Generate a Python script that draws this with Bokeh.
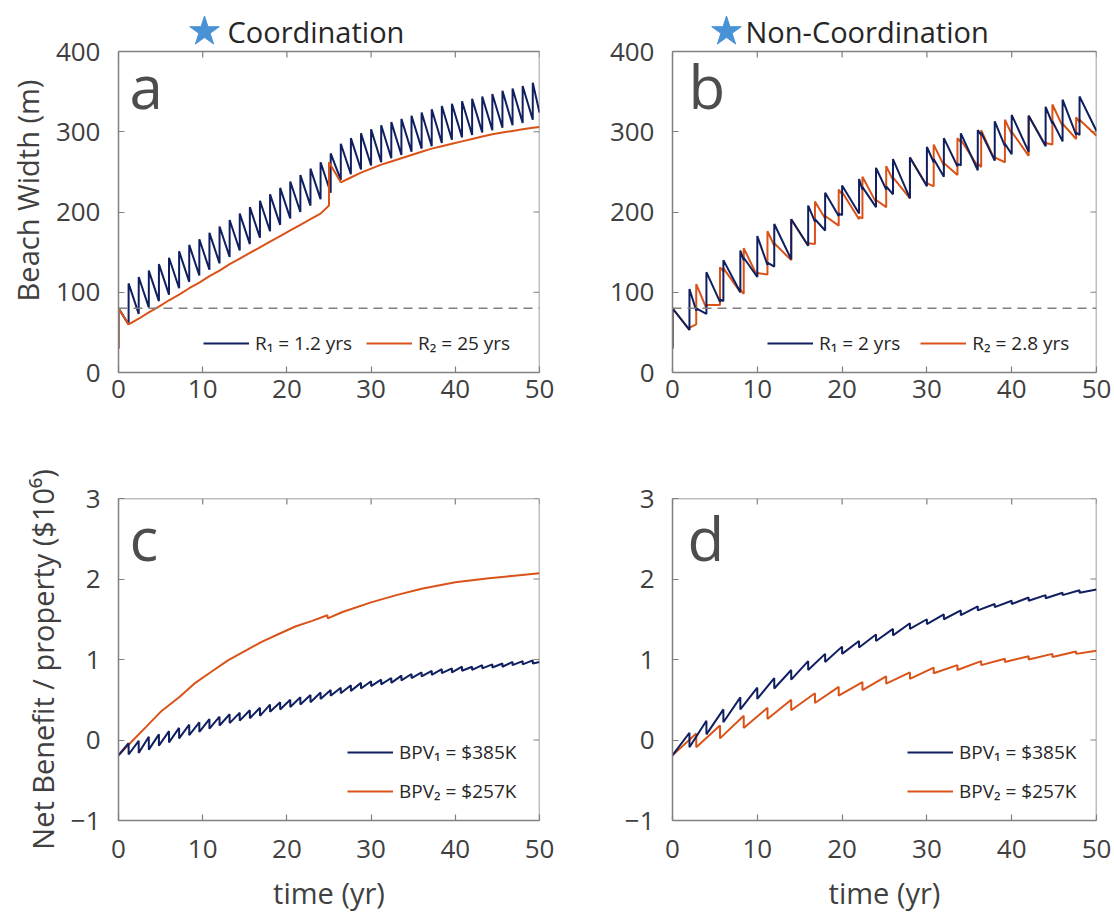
from bokeh.plotting import figure
from bokeh.models import Range1d, FixedTicker, Span, Label, Legend, LegendItem
from bokeh.layouts import column, row
from bokeh.embed import file_html
from bokeh.resources import INLINE
from bokeh.core.properties import value

# ---------------- DATA ----------------
x_ticks = [0, 10, 20, 30, 40, 50]
bw_ticks = [0, 100, 200, 300, 400]
nb_ticks = [-1, 0, 1, 2, 3]
threshold_width = 80

# Panel a (coordination) : property 1 nourishes every 1.2 yr, property 2 at 25 yr
a_start = [30, 80]
a1_times = [1.2, 2.4, 3.6, 4.8, 6.0, 7.2, 8.4, 9.6, 10.8, 12.0, 13.2, 14.4, 15.6, 16.8,
            18.0, 19.2, 20.4, 21.6, 22.8, 24.0, 25.2, 26.4, 27.6, 28.8, 30.0, 31.2, 32.4,
            33.6, 34.8, 36.0, 37.2, 38.4, 39.6, 40.8, 42.0, 43.2, 44.4, 45.6, 46.8, 48.0, 49.2]
a1_before = [60, 73, 81, 89, 97, 105, 113, 121, 128, 136, 144, 152, 160, 168, 176, 184, 192,
             200, 208, 216, 224, 240, 247, 253, 258, 262, 267, 271, 275, 279, 282, 286, 290,
             293, 296, 299, 302, 305, 308, 311, 315]
a1_after = [111, 119, 127, 135, 143, 151, 159, 166, 174, 182, 190, 198, 206, 214, 222, 230,
            238, 246, 254, 262, 273, 285, 292, 298, 303, 308, 312, 316, 320, 324, 328, 332,
            335, 338, 341, 344, 347, 351, 354, 357, 361]
a1_end = 324
a2_t = [0, 0, 1.2, 2.4, 3.6, 4.8, 6.0, 7.2, 8.4, 9.6, 10.8, 12.0, 13.2, 14.4, 15.6, 16.8,
        18.0, 19.2, 20.4, 21.6, 22.8, 24.0, 25.0, 25.0, 26.4, 27.6, 28.8, 30.0, 31.2, 32.4,
        33.6, 34.8, 36.0, 37.2, 38.4, 39.6, 40.8, 42.0, 43.2, 44.4, 45.6, 46.8, 48.0, 49.2, 50]
a2_w = [30, 80, 60, 67, 75, 82, 90, 97, 105, 112, 120, 127, 135, 142, 149, 156, 163, 170,
        177, 184, 191, 198, 208, 262, 237, 243, 249, 254, 259, 263, 267, 271, 275, 279, 282,
        285, 288, 291, 294, 297, 299, 301, 303, 305, 306]

# Panel b (non-coordination): events of either property (2 yr and 2.8 yr)
b_events = [2.0, 2.8, 4.0, 5.6, 6.0, 8.0, 8.4, 10.0, 11.2, 12.0, 14.0, 16.0, 16.8, 18.0,
            19.6, 20.0, 22.0, 22.4, 24.0, 25.2, 26.0, 28.0, 30.0, 30.8, 32.0, 33.6, 34.0,
            36.0, 36.4, 38.0, 39.2, 40.0, 42.0, 44.0, 44.8, 46.0, 47.6, 48.0]
b1_before = [53, 77, 73, 88, 89, 100, 140, 119, 134, 132, 141, 158, 188, 177, 195, 196, 198,
             228, 206, 228, 222, 217, 232, 262, 244, 257, 258, 252, 296, 264, 282, 272, 275,
             282, 310, 288, 296, 296]
b1_after = [104, 80, 125, 91, 140, 152, 143, 170, 137, 185, 191, 208, 191, 224, 198, 233, 241,
            231, 255, 232, 266, 268, 281, 266, 292, 260, 298, 302, 299, 313, 285, 321, 320,
            331, 313, 340, 299, 344]
b1_end = 301
b2_before = [53, 60, 80, 84, 126, 100, 98, 120, 122, 158, 140, 158, 160, 192, 183, 222, 191,
             192, 212, 206, 240, 217, 233, 232, 258, 246, 287, 257, 256, 265, 262, 297, 270,
             283, 284, 307, 291, 312]
b2_after = [56, 110, 84, 131, 130, 103, 155, 124, 176, 161, 191, 161, 213, 195, 228, 225, 194,
            244, 215, 257, 243, 268, 236, 284, 261, 292, 290, 260, 302, 268, 315, 300, 320,
            286, 334, 310, 318, 315]
b2_end = 295

# Panel c (coordination) net benefit, 10^6 $
c_start = -0.19
c1_top = [-0.04, -0.01, 0.04, 0.07, 0.11, 0.15, 0.19, 0.22, 0.26, 0.29, 0.32, 0.34, 0.37,
          0.40, 0.44, 0.47, 0.50, 0.53, 0.56, 0.59, 0.62, 0.65, 0.68, 0.71, 0.73, 0.75, 0.77,
          0.80, 0.82, 0.84, 0.86, 0.88, 0.89, 0.91, 0.91, 0.93, 0.94, 0.95, 0.97, 0.98, 0.99]
c1_bottom = [-0.18, -0.16, -0.12, -0.07, -0.03, 0.02, 0.06, 0.10, 0.14, 0.18, 0.21, 0.24,
             0.27, 0.30, 0.35, 0.38, 0.41, 0.44, 0.47, 0.51, 0.55, 0.58, 0.61, 0.64, 0.67,
             0.69, 0.71, 0.74, 0.77, 0.79, 0.81, 0.83, 0.84, 0.86, 0.87, 0.89, 0.90, 0.91,
             0.93, 0.94, 0.95]
c1_end = 0.97
c2_t = [0, 1, 3.25, 5, 7.2, 9, 11.2, 13, 15.1, 17, 19.1, 21, 23, 24.8, 24.85, 26.6, 30, 33,
        36, 40, 44, 47, 50]
c2_v = [-0.19, -0.08, 0.16, 0.35, 0.53, 0.70, 0.86, 0.99, 1.11, 1.22, 1.32, 1.41, 1.48, 1.55,
        1.51, 1.59, 1.71, 1.80, 1.88, 1.96, 2.01, 2.04, 2.07]

# Panel d (non-coordination) net benefit
d1_times = [2, 4, 6, 8, 10, 12, 14, 16, 18, 20, 22, 24, 26, 28, 30, 32, 34, 36, 38, 40, 42, 44, 46, 48]
d1_top = [0.09, 0.24, 0.38, 0.53, 0.65, 0.77, 0.87, 0.98, 1.07, 1.16, 1.23, 1.31, 1.38, 1.45,
          1.50, 1.56, 1.61, 1.66, 1.69, 1.73, 1.77, 1.80, 1.83, 1.86]
d1_bottom = [-0.09, 0.07, 0.22, 0.38, 0.51, 0.64, 0.75, 0.87, 0.97, 1.07, 1.15, 1.23, 1.30,
             1.38, 1.44, 1.50, 1.55, 1.61, 1.65, 1.69, 1.73, 1.76, 1.80, 1.83]
d1_end = 1.87
d2_times = [2.8, 5.6, 8.4, 11.2, 14.0, 16.8, 19.6, 22.4, 25.2, 28.0, 30.8, 33.6, 36.4, 39.2,
            42.0, 44.8, 47.6]
d2_top = [0.08, 0.18, 0.30, 0.40, 0.50, 0.58, 0.66, 0.72, 0.79, 0.84, 0.90, 0.93, 0.98, 1.01,
          1.04, 1.07, 1.10]
d2_bottom = [-0.09, 0.02, 0.15, 0.26, 0.37, 0.46, 0.55, 0.62, 0.70, 0.76, 0.83, 0.87, 0.93,
             0.97, 1.00, 1.03, 1.07]
d2_end = 1.11

# ---------------- STYLE ----------------
BLUE = "#0F1F5F"
ORANGE = "#D95319"
STAR = "#4A92D6"
AXC = "#808080"
TXT = "#404040"
FONT = "Open Sans"
TICK_PX = 6


def steps(start_t, start_v, times, before, after, end_t, end_v):
    xs, ys = list(start_t), list(start_v)
    for t, b, a in zip(times, before, after):
        xs += [t, t]
        ys += [b, a]
    xs.append(end_t)
    ys.append(end_v)
    return xs, ys


def make_fig(width, height, mbl, mbr, mbt, mbb, yr, yticks, x_standoff, ext_px=0):
    """Frame may extend ext_px pixels above the plotted box (room for the column title)."""
    fw = width - mbl - mbr
    box_h = height - mbt - mbb - ext_px
    span = yr[1] - yr[0]
    y_top = yr[1] + ext_px * span / box_h
    p = figure(width=width, height=height, x_range=Range1d(0, 50), y_range=Range1d(yr[0], y_top),
               output_backend="svg", toolbar_location=None,
               min_border_left=mbl, min_border_right=mbr,
               min_border_top=mbt, min_border_bottom=mbb)
    p.xgrid.visible = False
    p.ygrid.visible = False
    p.outline_line_color = None
    p.background_fill_color = "white"
    p.border_fill_color = "white"
    xa = p.below[0]
    ya = p.left[0]
    xa.ticker = FixedTicker(ticks=x_ticks)
    ya.ticker = FixedTicker(ticks=yticks)
    ya.bounds = (yr[0], yr[1])
    for ax in (xa, ya):
        ax.axis_line_color = AXC
        ax.axis_line_width = 1.5
        ax.major_tick_line_color = AXC
        ax.major_tick_line_width = 1.2
        ax.major_tick_in = TICK_PX
        ax.major_tick_out = 0
        ax.minor_tick_in = 0
        ax.minor_tick_out = 0
        ax.major_label_text_font = FONT
        ax.major_label_text_color = TXT
        ax.major_label_text_font_size = "26px"
        ax.axis_label_text_font = FONT
        ax.axis_label_text_font_style = "normal"
        ax.axis_label_text_color = TXT
        ax.axis_label_text_font_size = "29px"
    xa.major_label_standoff = x_standoff
    ya.major_label_standoff = 18
    # top and right edges of the box, with mirrored inward ticks
    x_end = x_ticks[-1]
    p.line(x=[x_ticks[0], x_end, x_end], y=[yr[1], yr[1], yr[0]], line_color=AXC, line_width=1.5)
    dy = TICK_PX * span / box_h
    dx = TICK_PX * 50 / fw
    p.segment(x0=x_ticks, y0=[yr[1]] * len(x_ticks), x1=x_ticks,
              y1=[yr[1] - dy] * len(x_ticks), line_color=AXC, line_width=1.2)
    p.segment(x0=[x_end] * len(yticks), y0=yticks, x1=[x_end - dx] * len(yticks), y1=yticks,
              line_color=AXC, line_width=1.2)
    p._px = (fw, box_h, span, yr[1])
    return p, xa, ya


def add_title(p, star_px, text_px, text, center_above_px=20):
    fw, box_h, span, ytop = p._px
    xs = star_px * 50 / fw
    xt = text_px * 50 / fw
    yc = ytop + center_above_px * span / box_h
    p.scatter(x=[xs], y=[yc], marker="star", size=31, fill_color=STAR, line_color=STAR)
    p.text(x=[xt], y=[yc], text=[text], text_font=value(FONT), text_font_size="29px",
           text_color="#262626", text_baseline="middle", text_align="left")


def add_letter(p, x, y, letter):
    p.add_layout(Label(x=x, y=y, x_units="screen", y_units="screen", text=letter,
                       text_color="#4D4D4D", text_font=FONT, text_font_size="60px",
                       text_baseline="alphabetic"))


def add_legend(p, items, loc, orientation, spacing):
    lg = Legend(items=items, location=loc, orientation=orientation,
                border_line_alpha=0, background_fill_alpha=0, padding=0, margin=0,
                spacing=spacing, glyph_width=46, glyph_height=22, label_standoff=6,
                label_text_font=FONT, label_text_font_size="19px", label_text_color="#262626")
    p.add_layout(lg)


# ---------------- PANEL a ----------------
pa, pa_x, pa_y = make_fig(560, 440, 118, 21, 8, 68, (0, 400), bw_ticks, 7, ext_px=43)
pa_y.axis_label = "Beach Width (m)"
pa_y.axis_label_standoff = 6
ax_, ay_ = steps([0, 0], a_start, a1_times, a1_before, a1_after, 50, a1_end)
ra1 = pa.line(ax_, ay_, line_color=BLUE, line_width=2)
ra2 = pa.line(a2_t, a2_w, line_color=ORANGE, line_width=2)
pa.add_layout(Span(location=threshold_width, dimension="width", line_color="#7F7F7F",
                   line_width=1.5, line_dash="9 6"))
add_title(pa, 86, 109, "Coordination")
add_letter(pa, 11, 287, "a")
add_legend(pa, [LegendItem(label="R₁ = 1.2 yrs", renderers=[ra1]),
                LegendItem(label="R₂ = 25 yrs", renderers=[ra2])], (85, 16), "horizontal", 14)

# ---------------- PANEL b ----------------
pb, pb_x, pb_y = make_fig(554, 440, 112, 18, 8, 68, (0, 400), bw_ticks, 7, ext_px=43)
bx1, by1 = steps([0, 0], a_start, b_events, b1_before, b1_after, 50, b1_end)
bx2, by2 = steps([0, 0], a_start, b_events, b2_before, b2_after, 50, b2_end)
rb2 = pb.line(bx2, by2, line_color=ORANGE, line_width=2)
rb1 = pb.line(bx1, by1, line_color=BLUE, line_width=2)
pb.add_layout(Span(location=threshold_width, dimension="width", line_color="#7F7F7F",
                   line_width=1.5, line_dash="9 6"))
add_title(pb, 54, 73, "Non-Coordination")
add_letter(pb, 16, 287, "b")
add_legend(pb, [LegendItem(label="R₁ = 2 yrs", renderers=[rb1]),
                LegendItem(label="R₂ = 2.8 yrs", renderers=[rb2])], (95, 16), "horizontal", 20)

# ---------------- PANEL c ----------------
pc, pc_x, pc_y = make_fig(560, 475, 118, 21, 58, 95, (-1, 3), nb_ticks, 19)
pc_y.axis_label = "Net Benefit / property ($10⁶)"
pc_y.axis_label_standoff = 6
pc_x.axis_label = "time (yr)"
pc_x.axis_label_standoff = 12
cx1, cy1 = steps([0], [c_start], a1_times, c1_top, c1_bottom, 50, c1_end)
rc2 = pc.line(c2_t, c2_v, line_color=ORANGE, line_width=2)
rc1 = pc.line(cx1, cy1, line_color=BLUE, line_width=2)
add_letter(pc, 11, 283, "c")
add_legend(pc, [LegendItem(label="BPV₁ = $385K", renderers=[rc1]),
                LegendItem(label="BPV₂ = $257K", renderers=[rc2])], (229, 16), "vertical", 13)

# ---------------- PANEL d ----------------
pdd, pd_x, pd_y = make_fig(554, 475, 112, 18, 58, 95, (-1, 3), nb_ticks, 19)
pd_x.axis_label = "time (yr)"
pd_x.axis_label_standoff = 12
dx1, dy1 = steps([0], [c_start], d1_times, d1_top, d1_bottom, 50, d1_end)
dx2, dy2 = steps([0], [c_start], d2_times, d2_top, d2_bottom, 50, d2_end)
rd2 = pdd.line(dx2, dy2, line_color=ORANGE, line_width=2)
rd1 = pdd.line(dx1, dy1, line_color=BLUE, line_width=2)
add_letter(pdd, 15, 283, "d")
add_legend(pdd, [LegendItem(label="BPV₁ = $385K", renderers=[rd1]),
                 LegendItem(label="BPV₂ = $257K", renderers=[rd2])], (235, 16), "vertical", 13)

layout = column(row(pa, pb), row(pc, pdd))
open("out.html", "w").write(file_html(layout, INLINE))
